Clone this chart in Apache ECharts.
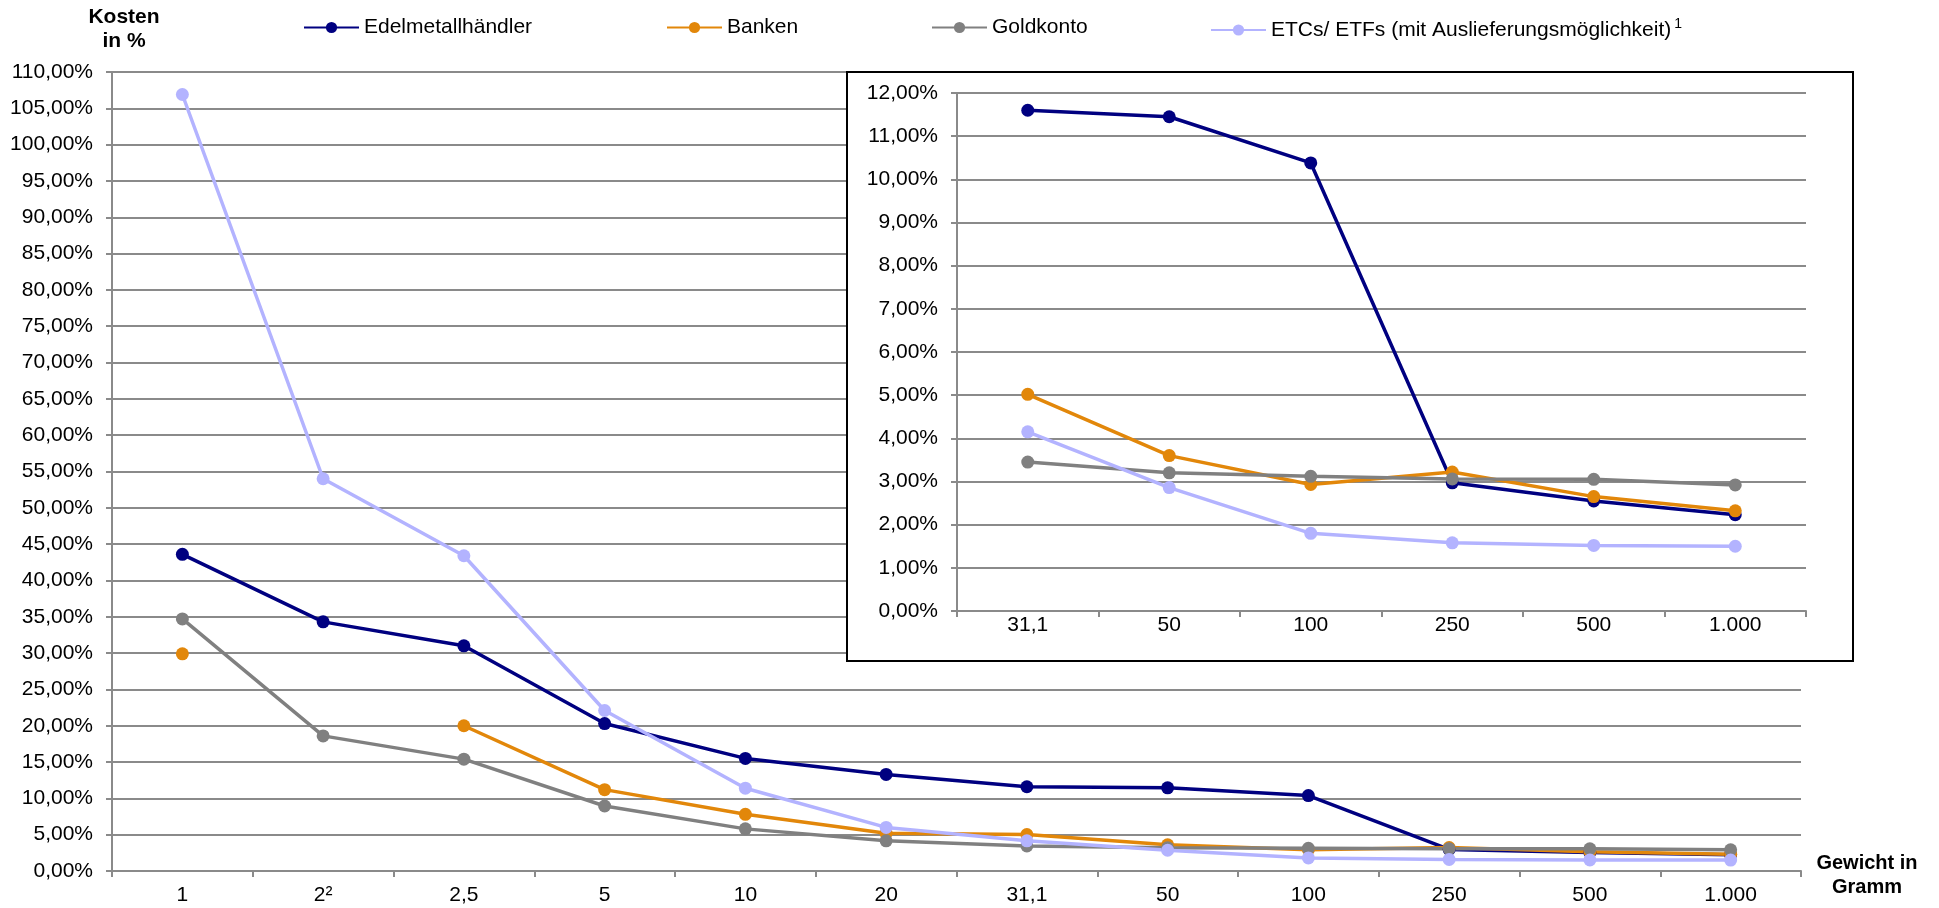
<!DOCTYPE html>
<html>
<head>
<meta charset="utf-8">
<script src="https://cdn.jsdelivr.net/npm/echarts@6/dist/echarts.min.js"></script>
<style>
  html, body { margin: 0; padding: 0; background: #fff; }
  #chart { width: 1939px; height: 908px; }
</style>
</head>
<body>
<div id="chart"></div>
<script>
// Gewichtsklassen (Gramm)
const weights = ['1', '2\u00b2', '2,5', '5', '10', '20', '31,1', '50', '100', '250', '500', '1.000'];
// Ausschnitt ab 31,1 g für die vergrößerte Darstellung
const zoomStart = 6;

// Kosten in % je Anbieter
const dealers     = [43.6, 34.3, 31.0, 20.3, 15.5, 13.3, 11.6, 11.45, 10.38, 2.97, 2.55, 2.23];
const banks       = [29.9, null, 20.0, 11.2, 7.8, 5.2, 5.02, 3.6, 2.93, 3.22, 2.65, 2.32];
const goldAccount = [34.7, 18.6, 15.4, 8.95, 5.8, 4.15, 3.45, 3.2, 3.12, 3.06, 3.05, 2.92];
const etcs        = [106.9, 54.0, 43.4, 22.1, 11.4, 6.0, 4.15, 2.86, 1.8, 1.58, 1.52, 1.5];

const seriesNames = ['Edelmetallhändler', 'Banken', 'Goldkonto', 'ETCs/ ETFs (mit Auslieferungsmöglichkeit)'];
const seriesData = [dealers, banks, goldAccount, etcs];
const colors = ['#000080', '#E2870A', '#808080', '#B3B3FF'];

const FONT = 'Liberation Sans, Arial, sans-serif';
const GRID = '#8a8a8a';
const FS = 21;
const pct = v => v.toFixed(2).replace('.', ',') + '%';

function axisPair(gridIndex, cats, yMax, z, xMargin) {
  const x = {
    gridIndex, type: 'category', data: cats, boundaryGap: true, z,
    axisLine: { show: true, lineStyle: { color: GRID, width: 2 } },
    axisTick: { show: true, length: 6, lineStyle: { color: GRID, width: 2 } },
    axisLabel: { interval: 0, color: '#000', fontSize: FS, fontFamily: FONT, margin: xMargin },
    splitLine: { show: false }
  };
  const y = {
    gridIndex, type: 'value', min: 0, max: yMax, interval: yMax > 20 ? 5 : 1, z,
    axisLine: { show: true, lineStyle: { color: GRID, width: 2 } },
    axisTick: { show: true, length: 6, lineStyle: { color: GRID, width: 2 } },
    axisLabel: { color: '#000', fontSize: FS, fontFamily: FONT, margin: 19, formatter: pct },
    splitLine: { show: true, lineStyle: { color: GRID, width: 2 } }
  };
  return [x, y];
}

const [xMain, yMain] = axisPair(0, weights, 110, 0, 14);
const [xZoom, yZoom] = axisPair(1, weights.slice(zoomStart), 12, 5, 4);

const series = [];
seriesNames.forEach((name, i) => {
  const common = {
    name, type: 'line', symbol: 'circle', symbolSize: 13,
    lineStyle: { width: 3.5, color: colors[i] },
    itemStyle: { color: colors[i] },
    emphasis: { disabled: true }
  };
  series.push(Object.assign({}, common, { xAxisIndex: 0, yAxisIndex: 0, z: 2, data: seriesData[i] }));
  series.push(Object.assign({}, common, { xAxisIndex: 1, yAxisIndex: 1, z: 6, data: seriesData[i].slice(zoomStart) }));
});

const legendLefts = [298, 661, 926, 1205];
const legends = seriesNames.map((name, i) => ({
  data: [name], left: legendLefts[i], top: 12,
  itemWidth: 55, itemHeight: 14, selectedMode: false,
  textStyle: {
    color: '#000', fontSize: FS, fontFamily: FONT,
    rich: { sup: { fontSize: 14, fontFamily: FONT, color: '#000', padding: [0, 0, 12, 3] } }
  },
  formatter: n => (i === 3 ? n + '{sup|1}' : n)
}));

const chart = echarts.init(document.getElementById('chart'), null, { renderer: 'canvas' });
chart.setOption({
  animation: false,
  backgroundColor: '#fff',
  legend: legends,
  grid: [
    { left: 112, right: 138, top: 72, bottom: 37 },
    { left: 957, right: 133, top: 93, bottom: 297 }
  ],
  xAxis: [xMain, xZoom],
  yAxis: [yMain, yZoom],
  series,
  graphic: [
    {
      type: 'rect', z: 3, silent: true,
      shape: { x: 847, y: 72, width: 1006, height: 589 },
      style: { fill: '#fff', stroke: '#000', lineWidth: 2 }
    },
    {
      type: 'text', z: 10, silent: true,
      style: { text: 'Kosten\nin %', x: 124, y: 29, align: 'center', verticalAlign: 'middle',
               font: 'bold 21px ' + FONT, lineHeight: 24, fill: '#000' }
    },
    {
      type: 'text', z: 10, silent: true,
      style: { text: 'Gewicht in\nGramm', x: 1867, y: 875, align: 'center', verticalAlign: 'middle',
               font: 'bold 20px ' + FONT, lineHeight: 24, fill: '#000' }
    }
  ]
});
</script>
</body>
</html>
